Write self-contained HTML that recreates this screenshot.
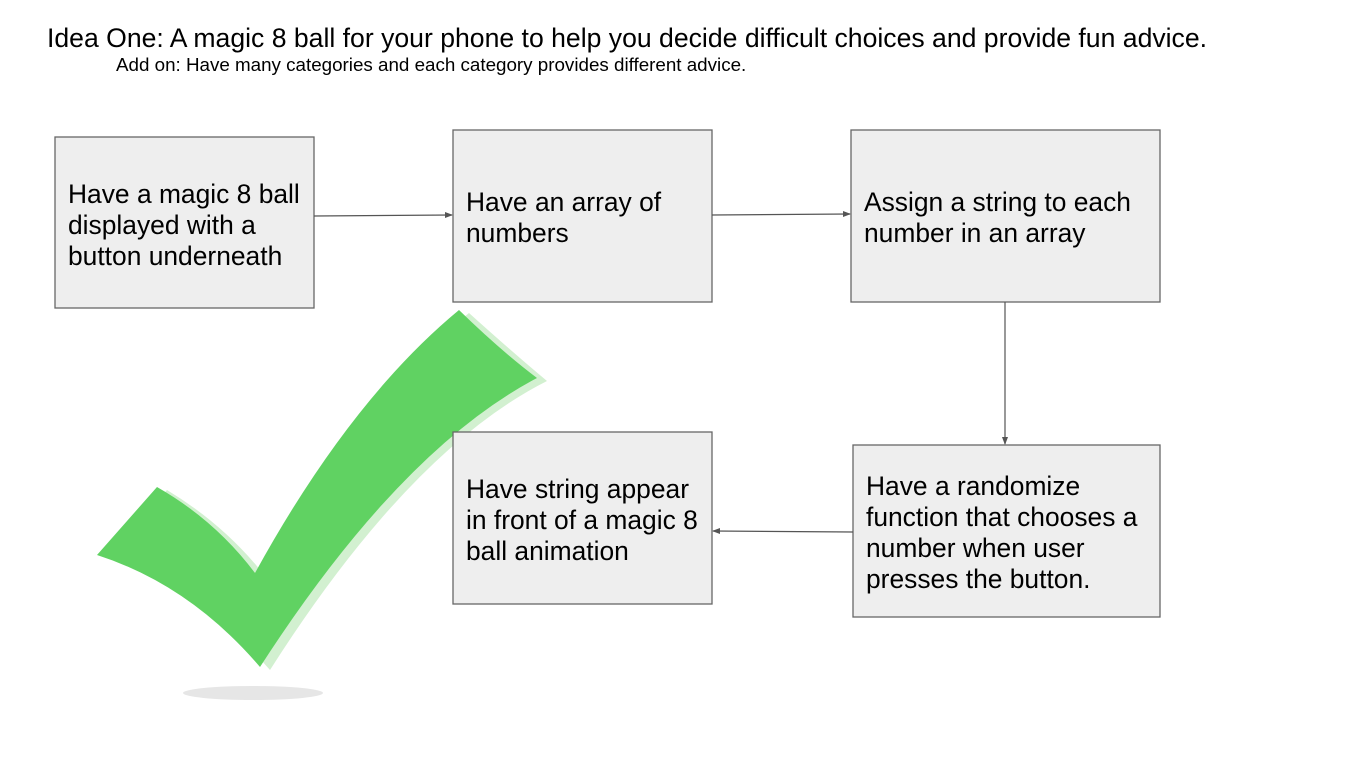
<!DOCTYPE html>
<html><head><meta charset="utf-8"><style>
html,body{margin:0;padding:0;background:#fff;}
body{width:1365px;height:767px;position:relative;overflow:hidden;font-family:"Liberation Sans",Arial,sans-serif;}
.t{position:absolute;white-space:nowrap;color:#000;}
svg{position:absolute;left:0;top:0;}
</style></head><body>
<svg width="1365" height="767" viewBox="0 0 1365 767">
<defs><marker id="a" markerWidth="8" markerHeight="8" refX="7" refY="4" orient="auto" markerUnits="userSpaceOnUse"><path d="M0,1 L8,4 L0,7 Z" fill="#555"/></marker></defs>
<ellipse cx="253" cy="693" rx="70" ry="7" fill="#e6e6e6"/>
<path d="M107,558 L167,490 Q225,525 265,576 Q360,400 469,313 Q510,350 547,381 Q410,450 270,670 Q200,590 107,558 Z" fill="#d2f0d0"/>
<path d="M97,555 L157,487 Q215,520 255,573 Q350,400 459,310 Q500,350 537,378 Q400,450 260,667 Q190,585 97,555 Z" fill="#60d262"/>
<g fill="#eeeeee" stroke="#666" stroke-width="1.3">
<rect x="55" y="137" width="259" height="171"/>
<rect x="453" y="130" width="259" height="172"/>
<rect x="851" y="130" width="309" height="172"/>
<rect x="853" y="445" width="307" height="172"/>
<rect x="453" y="432" width="259" height="172"/>
</g>
<g stroke="#555" stroke-width="1.2" fill="none">
<line x1="314" y1="216" x2="452" y2="215" marker-end="url(#a)"/>
<line x1="712" y1="215" x2="850" y2="214" marker-end="url(#a)"/>
<line x1="1005" y1="302" x2="1005" y2="444" marker-end="url(#a)"/>
<line x1="853" y1="532" x2="713" y2="531" marker-end="url(#a)"/>
</g>
</svg>
<div class="t" style="left:47px;top:23px;font-size:26.6px;">Idea One: A magic 8 ball for your phone to help you decide difficult choices and provide fun advice.</div>
<div class="t" style="left:116px;top:54px;font-size:18.8px;">Add on: Have many categories and each category provides different advice.</div>
<div class="t" style="left:68px;top:179px;font-size:26.4px;line-height:31px;">Have a magic 8 ball<br>displayed with a<br>button underneath</div>
<div class="t" style="left:466px;top:187px;font-size:26.4px;line-height:31px;">Have an array of<br>numbers</div>
<div class="t" style="left:864px;top:187px;font-size:26.4px;line-height:31px;">Assign a string to each<br>number in an array</div>
<div class="t" style="left:866px;top:471px;font-size:26.4px;line-height:31px;">Have a randomize<br>function that chooses a<br>number when user<br>presses the button.</div>
<div class="t" style="left:466px;top:474px;font-size:26.4px;line-height:31px;">Have string appear<br>in front of a magic 8<br>ball animation</div>
</body></html>
